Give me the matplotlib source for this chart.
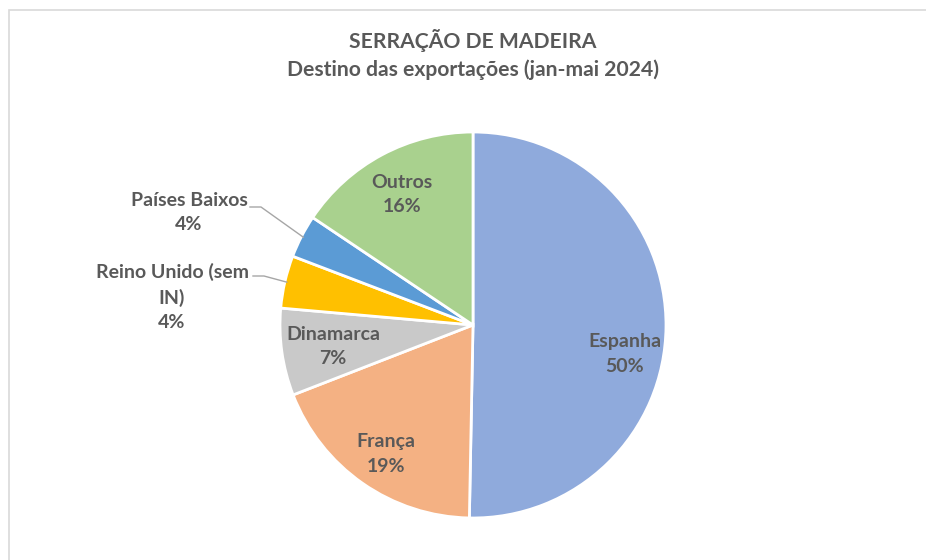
import numpy as np
import matplotlib.pyplot as plt
from matplotlib.patches import Rectangle

plt.rcParams['font.family'] = ['Lato', 'DejaVu Sans']

# data
paises = ['Espanha', 'França', 'Dinamarca', 'Reino Unido (sem\nIN)', 'Países Baixos', 'Outros']
quotas = [50.3, 18.8, 7.3, 4.4, 3.6, 15.6]
cores = ['#8FAADC', '#F4B183', '#C9C9C9', '#FFC000', '#5B9BD5', '#A9D18E']

cinza = '#595959'
W, H = 926, 560

fig = plt.figure(figsize=(W / 100, H / 100), dpi=100)
ax = fig.add_axes([0, 0, 1, 1])
ax.axis('off')

# moldura do grafico
fig.patches.append(Rectangle((9 / W, -0.1), 1.2, (H - 10) / H + 0.1,
                             transform=fig.transFigure, fill=False,
                             edgecolor='#D9D9D9', linewidth=1.2))

cx, cy, r = 473, H - 325, 193
wedges, _ = ax.pie(quotas, colors=cores, startangle=90, counterclock=False,
                   center=(cx, cy), radius=r,
                   wedgeprops=dict(edgecolor='white', linewidth=2))
ax.set_xlim(0, W)
ax.set_ylim(0, H)
ax.set_aspect('equal')

# posicao dos rotulos (pixeis, origem no canto superior esquerdo)
pos_rot = [(625, 354), (386, 454), (333, 347), (172, 297), (189, 212), (402, 195)]
# linhas de chamada: x inicial, x do cotovelo, y (pixeis)
chamada = {3: (253, 264, 276), 4: (250, 261, 207)}

for i, w in enumerate(wedges):
    tx, ty = pos_rot[i]
    ax.text(tx, H - ty, f'{paises[i]}\n{quotas[i]:.0f}%', ha='center', va='center',
            fontsize=14, fontweight='bold', color=cinza, linespacing=1.5)
    if i in chamada:
        lx0, lx1, ly = chamada[i]
        ang = np.deg2rad((w.theta1 + w.theta2) / 2)
        ex, ey = cx + 0.99 * r * np.cos(ang), cy + 0.99 * r * np.sin(ang)
        ax.plot([lx0, lx1, ex], [H - ly, H - ly, ey], color='#A6A6A6', linewidth=1)

ax.text(cx, H - 40, 'SERRAÇÃO DE MADEIRA', ha='center', va='center',
        fontsize=15.2, fontweight='bold', color=cinza)
ax.text(cx, H - 70, 'Destino das exportações (jan-mai 2024)', ha='center',
        va='center', fontsize=15.2, fontweight='bold', color=cinza)

fig.savefig('out.png', dpi=100)
